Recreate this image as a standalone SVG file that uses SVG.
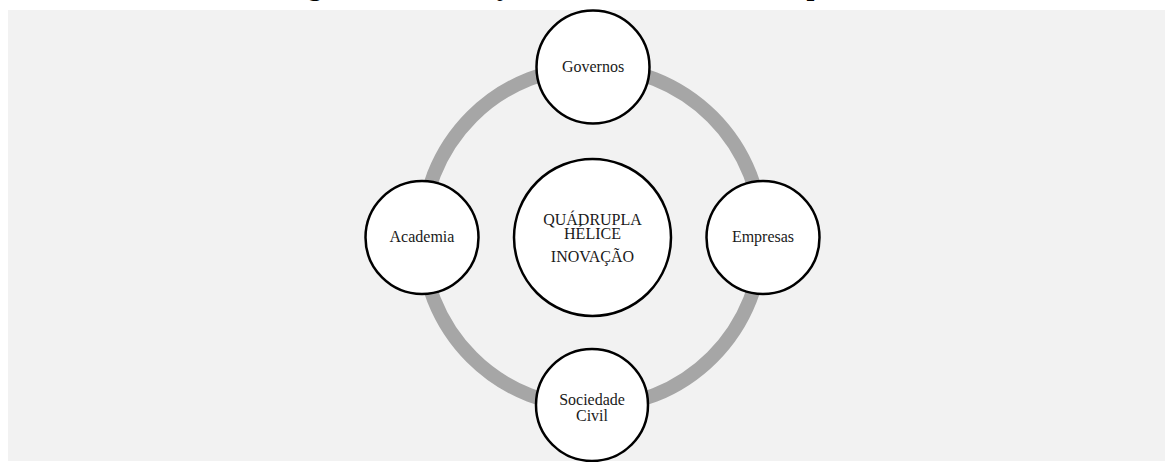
<svg xmlns="http://www.w3.org/2000/svg" width="1166" height="462" viewBox="0 0 1166 462">
<style>
.node{fill:#ffffff;stroke:#000000;stroke-width:2.5}
.lbl{font-family:"Liberation Serif","Times New Roman",serif;font-size:16px;fill:#1a1a1a;text-anchor:middle}
.title{font-family:"Liberation Serif","Times New Roman",serif;font-size:28px;font-weight:bold;fill:#000000}
</style>
<rect x="0" y="0" width="1166" height="462" fill="#ffffff"/>
<rect x="8" y="10" width="1157" height="451" fill="#f2f2f2"/>
<text class="title" x="283" y="-5">Figura 1 – Ilustração do Modelo da Quádrupla Hélice</text>
<g id="connectors">
<circle cx="592" cy="237" r="170" fill="none" stroke="#a6a6a6" stroke-width="14"/>
</g>
<g id="center">
<circle class="node" cx="592.5" cy="237.5" r="78.5"/>
<text class="lbl" x="592.5" y="225">QUÁDRUPLA</text>
<text class="lbl" x="592.5" y="239">HÉLICE</text>
<text class="lbl" x="592.5" y="262">INOVAÇÃO</text>
</g>
<g id="governos">
<circle class="node" cx="593" cy="67" r="56.5"/>
<text class="lbl" x="593" y="72">Governos</text>
</g>
<g id="academia">
<circle class="node" cx="422" cy="237.5" r="56.5"/>
<text class="lbl" x="422" y="242">Academia</text>
</g>
<g id="empresas">
<circle class="node" cx="763" cy="237.5" r="56.5"/>
<text class="lbl" x="763" y="242">Empresas</text>
</g>
<g id="sociedade">
<circle class="node" cx="592" cy="405" r="56"/>
<text class="lbl" x="592" y="405">Sociedade</text>
<text class="lbl" x="592" y="421">Civil</text>
</g>
</svg>
